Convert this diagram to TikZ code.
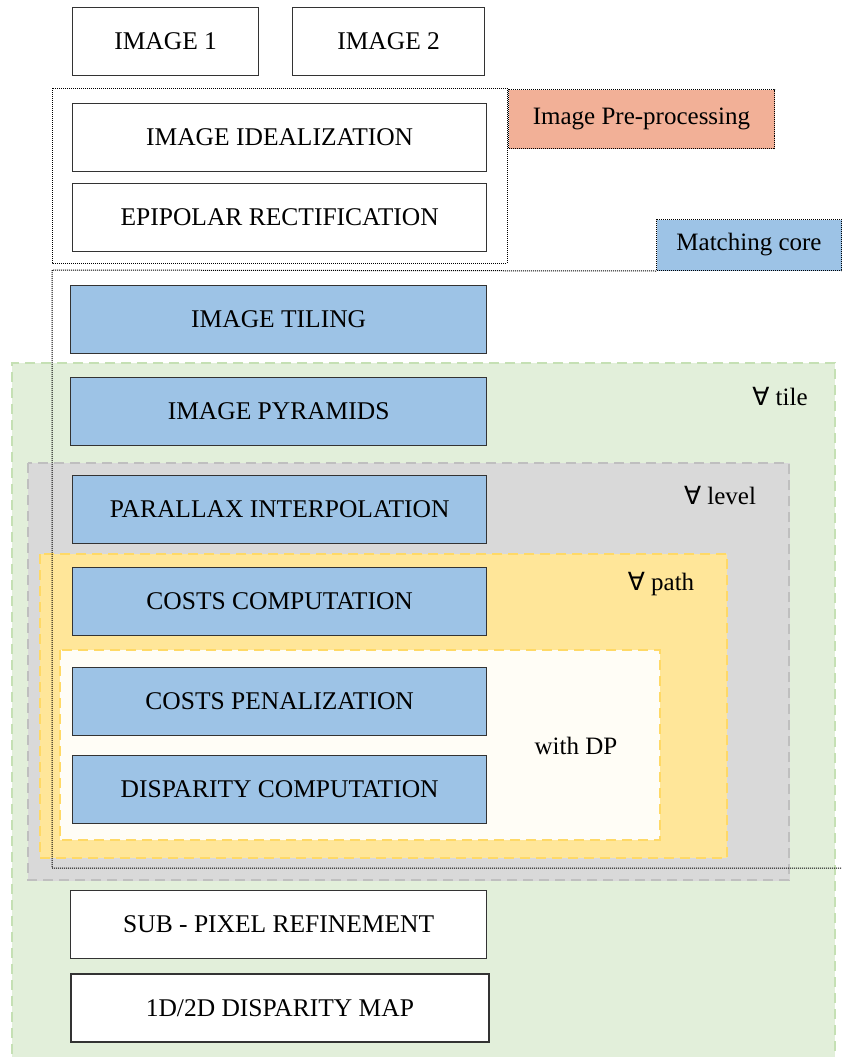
\documentclass[tikz,border=0pt]{standalone}
\usepackage{fontspec}
\setmainfont{Liberation Serif}
\newfontfamily\symfont{DejaVu Sans}
\usepackage{tikz}

\definecolor{stepblue}{HTML}{9DC3E6}
\definecolor{preorange}{HTML}{F2B097}
\definecolor{tilegreen}{HTML}{E2EFDA}
\definecolor{tileedge}{HTML}{C5E0B4}
\definecolor{levelgray}{HTML}{D9D9D9}
\definecolor{leveledge}{HTML}{BFBFBF}
\definecolor{pathyellow}{HTML}{FFE699}
\definecolor{pathedge}{HTML}{FFD966}
\definecolor{dpwhite}{HTML}{FFFDF6}

\tikzset{
  stepbox/.style={draw=black!80, line width=1.3pt, anchor=north west, minimum height=68pt, inner sep=0pt, font=\fontsize{25.5}{30}\selectfont},
  plainbox/.style={stepbox, fill=white},
  bluebox/.style={stepbox, fill=stepblue},
  tagbox/.style={draw=black, densely dotted, line width=1pt, anchor=north west, inner sep=0pt, font=\fontsize{25}{30}\selectfont},
  looplabel/.style={font=\fontsize{25}{30}\selectfont},
  groupline/.style={black, densely dotted, line width=1pt}
}
\newcommand{\every}{{\symfont\char"2200}}

\begin{document}
\begin{tikzpicture}[x=1pt,y=-1pt]
\useasboundingbox (0,0) rectangle (842,1057);
\fill [tilegreen] (12,363) rectangle (835,1070);
\draw [tileedge, line width=2.2pt, dash pattern=on 10pt off 6pt] (12,1070) -- (12,363) -- (835,363) -- (835,1070);
\draw [levelgray, fill=levelgray] (28,463) rectangle (789,880);
\draw [leveledge, line width=2.2pt, dash pattern=on 10pt off 6pt] (28,463) rectangle (789,880);
\draw [pathedge, fill=pathyellow, line width=2.2pt, dash pattern=on 10pt off 6pt] (40,554) rectangle (727,858);
\draw [pathedge, fill=dpwhite, line width=2.2pt, dash pattern=on 10pt off 6pt] (60,650) rectangle (660,840);

\node[plainbox, minimum width=186pt] (img1) at (72,7) {IMAGE 1};
\node[plainbox, minimum width=192pt] (img2) at (292,7) {IMAGE 2};
\node[plainbox, minimum width=414pt] (ideal) at (72,103) {IMAGE IDEALIZATION};
\node[plainbox, minimum width=414pt] (epi) at (72,183) {EPIPOLAR RECTIFICATION};
\node[bluebox, minimum width=416pt] (tiling) at (70,285) {IMAGE TILING};
\node[bluebox, minimum width=416pt] (pyr) at (70,377) {IMAGE PYRAMIDS};
\node[bluebox, minimum width=414pt] (parallax) at (72,475) {PARALLAX INTERPOLATION};
\node[bluebox, minimum width=414pt] (costs) at (72,567) {COSTS COMPUTATION};
\node[bluebox, minimum width=414pt] (penal) at (72,667) {COSTS PENALIZATION};
\node[bluebox, minimum width=414pt] (disp) at (72,755) {DISPARITY COMPUTATION};
\node[plainbox, minimum width=416pt] (subpix) at (70,890) {SUB - PIXEL REFINEMENT};
\node[plainbox, minimum width=418pt, line width=1.8pt] (dmap) at (70,973) {1D/2D DISPARITY MAP};

\node[tagbox, fill=preorange, minimum width=266pt, minimum height=59pt] (pretag) at (508,89) {Image Pre-processing};
\node[tagbox, fill=stepblue, minimum width=185pt, minimum height=51pt] (coretag) at (656,219) {Matching core};

\draw [groupline] (52,88) rectangle (507,263);
\coordinate (coreleft) at (52,270);
\coordinate (corebottom) at (52,868);
\coordinate (coreright) at (842,868);
\draw [groupline] (coretag.south west) -- (coreleft) -- (corebottom) -- (coreright);

\node[looplabel] (tile) at (780,397) {\every\ tile};
\node[looplabel] (level) at (720,496) {\every\ level};
\node[looplabel] (path) at (661,584) {\every\ path};
\node[looplabel] (dp) at (576,746) {with DP};
\end{tikzpicture}
\end{document}
